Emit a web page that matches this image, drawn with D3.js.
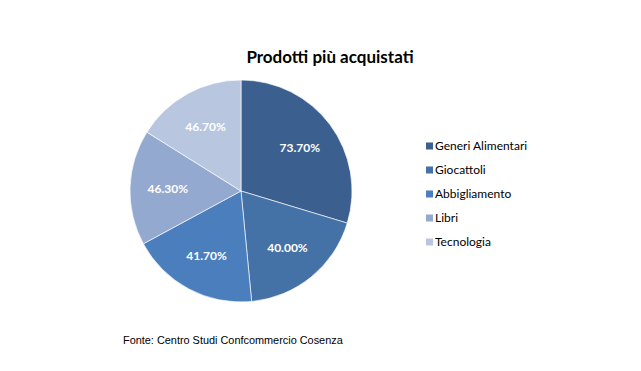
<!DOCTYPE html>
<html><head><meta charset="utf-8">
<script src="https://cdn.jsdelivr.net/npm/d3@7"></script>
<style>html,body{margin:0;padding:0;background:#fff;}</style>
</head><body>
<svg id="c" width="641" height="371"></svg>
<script>
const categories = ["Generi Alimentari","Giocattoli","Abbigliamento","Libri","Tecnologia"];
const values = [73.7, 46.7, 46.3, 41.7, 40.0];
const labels = ["73.70%","40.00%","41.70%","46.30%","46.70%"];
const colors = ["#3B5F8E","#4472A6","#4A7EBC","#94A9CF","#B9C6E0"];
const title = "Prodotti più acquistati";
const source = "Fonte: Centro Studi Confcommercio Cosenza";

const svg = d3.select("#c");
const cx = 241, cy = 191, r = 111;

svg.append("text").attr("x", 330).attr("y", 63).attr("text-anchor","middle")
  .style("font-family","Lato, 'Open Sans', sans-serif").style("font-weight","bold")
  .style("font-size","17px").attr("fill","#000").text(title);

const pie = d3.pie().sort(null).value(d => d)(values);
const arc = d3.arc().innerRadius(0).outerRadius(r);
const labelArc = d3.arc().innerRadius(r*0.66).outerRadius(r*0.66);
const g = svg.append("g").attr("transform", `translate(${cx},${cy})`);
g.selectAll("path").data(pie).join("path")
  .attr("d", arc).attr("fill", (d,i) => colors[i])
  .attr("stroke","#ffffff").attr("stroke-width",0.8).attr("stroke-opacity",0.8);
g.selectAll("text").data(pie).join("text")
  .attr("transform", d => `translate(${labelArc.centroid(d)})`)
  .attr("text-anchor","middle").attr("dy","0.36em")
  .style("font-family","Lato, 'Open Sans', sans-serif").style("font-weight","bold")
  .style("font-size","12px").attr("fill","#fff")
  .text((d,i) => labels[i]);

const lg = svg.append("g");
const y0 = 146, step = 24;
categories.forEach((c,i) => {
  lg.append("rect").attr("x",426).attr("y", y0 + i*step - 3.5).attr("width",7).attr("height",7).attr("fill",colors[i]);
  lg.append("text").attr("x",435).attr("y", y0 + i*step).attr("dy","0.36em")
    .style("font-family","Lato, 'Open Sans', sans-serif").style("font-size","12px")
    .attr("fill","#000").text(c);
});

svg.append("text").attr("x",123).attr("y",344)
  .style("font-family","'Liberation Sans', Arial, sans-serif").style("font-size","10.9px")
  .attr("fill","#000").text(source);
</script>
</body></html>
